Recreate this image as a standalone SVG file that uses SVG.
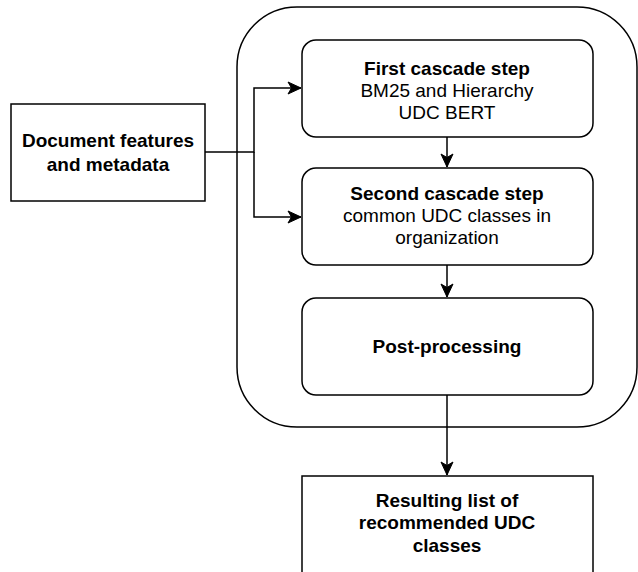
<svg xmlns="http://www.w3.org/2000/svg" width="638" height="572" viewBox="0 0 638 572">
<defs>
<style>
.box{fill:#fff;stroke:#000;stroke-width:1.5}
.edge{fill:none;stroke:#000;stroke-width:1.5}
text{font-family:"Liberation Sans",Arial,Helvetica,sans-serif;font-size:19px;text-anchor:middle;fill:#000}
.b{font-weight:bold}
</style>
<marker id="arr" markerUnits="userSpaceOnUse" markerWidth="16" markerHeight="14" viewBox="-14 -7 16 14" refX="0" refY="0" orient="auto">
<path d="M0,0 L-13,-6 L-9.5,0 L-13,6 Z" fill="#000" stroke="#000" stroke-width="1"/>
</marker>
</defs>
<rect width="638" height="572" fill="#fff"/>
<g id="container">
<rect class="box" x="237" y="7" width="400" height="420" rx="60" ry="60"/>
</g>
<g id="doc">
<rect class="box" x="11" y="104" width="194" height="97"/>
<text class="b" x="108" y="147">Document features</text>
<text class="b" x="108" y="171">and metadata</text>
</g>
<g id="step1">
<rect class="box" x="302" y="40" width="291" height="97" rx="14" ry="14"/>
<text class="b" x="447" y="75">First cascade step</text>
<text x="447" y="97">BM25 and Hierarchy</text>
<text x="447" y="119">UDC BERT</text>
</g>
<g id="step2">
<rect class="box" x="302" y="168" width="291" height="97" rx="14" ry="14"/>
<text class="b" x="447" y="200">Second cascade step</text>
<text x="447" y="222">common UDC classes in</text>
<text x="447" y="244">organization</text>
</g>
<g id="post">
<rect class="box" x="302" y="298" width="291" height="97" rx="14" ry="14"/>
<text class="b" x="447" y="353">Post-processing</text>
</g>
<g id="result">
<rect class="box" x="302" y="476" width="291" height="110"/>
<text class="b" x="447" y="507">Resulting list of</text>
<text class="b" x="447" y="529">recommended UDC</text>
<text class="b" x="447" y="552">classes</text>
</g>
<g id="connectors">
<path class="edge" d="M205,152 H254 V88 H301" marker-end="url(#arr)"/>
<path class="edge" d="M254,152 V217 H301" marker-end="url(#arr)"/>
<path class="edge" d="M447,137 V167" marker-end="url(#arr)"/>
<path class="edge" d="M447,265 V297" marker-end="url(#arr)"/>
<path class="edge" d="M447,395 V475" marker-end="url(#arr)"/>
</g>
</svg>
